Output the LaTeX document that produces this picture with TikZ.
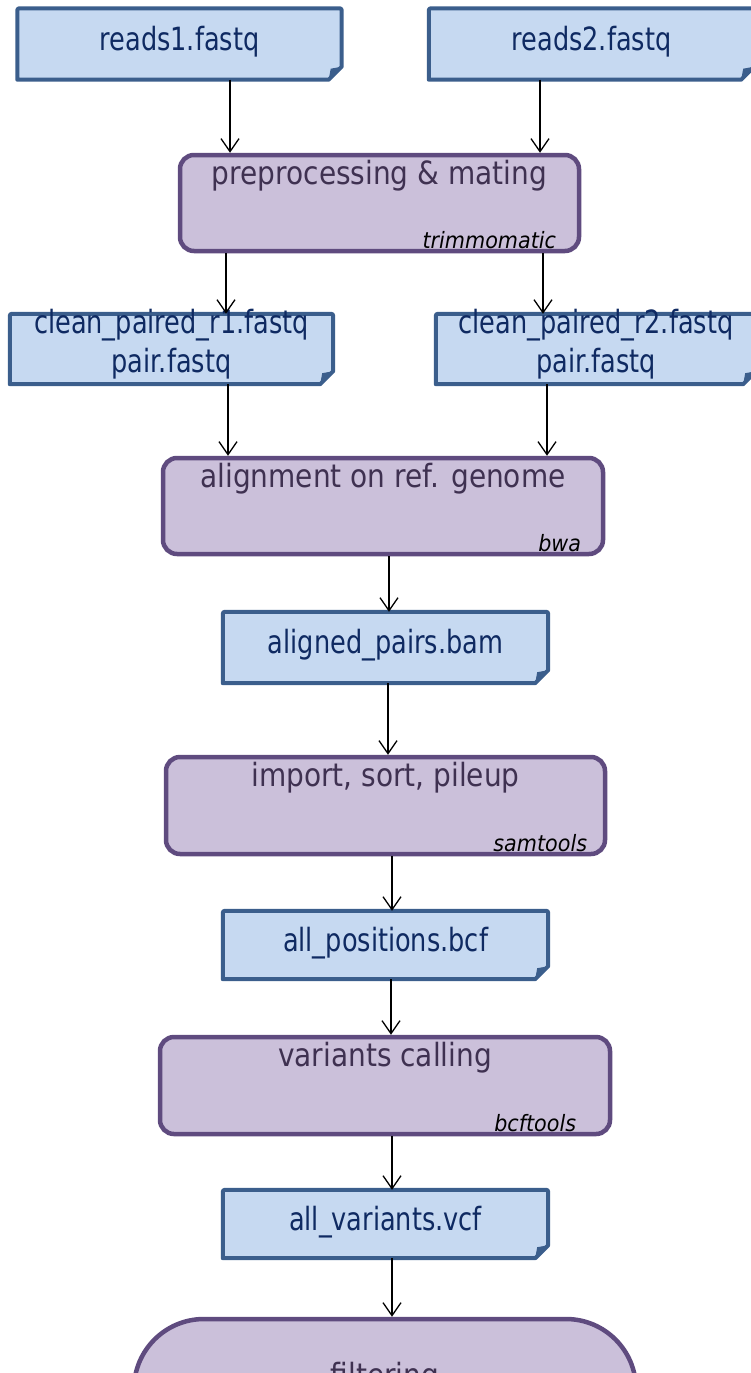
\documentclass[tikz,border=0pt]{standalone}
\usepackage{fontspec}
\setmainfont{DejaVu Sans}
\newfontfamily\filefont[FakeStretch=0.80]{DejaVu Sans}
\newfontfamily\titlefont[FakeStretch=0.875]{DejaVu Sans}
\newfontfamily\labelfont[FakeStretch=0.92]{DejaVu Sans}
\usetikzlibrary{arrows.meta,calc,backgrounds}
\definecolor{filefill}{HTML}{C6D9F1}
\definecolor{fileline}{HTML}{3B5E8C}
\definecolor{filetext}{HTML}{0F2A62}
\definecolor{procfill}{HTML}{CBC0DA}
\definecolor{procline}{HTML}{5F4B7F}
\definecolor{proctext}{HTML}{3F3151}
\tikzset{
  filebox/.style={rectangle, inner sep=0pt, draw=none, text=filetext, font=\filefont\fontsize{32}{39}\selectfont, text height=20pt, text depth=8pt},
  twoline/.style={align=center, text height=58pt, text depth=12pt},
  procbox/.style={rectangle, rounded corners=14pt, fill=procfill, draw=procline, line width=4.5pt, inner sep=0pt},
  proctitle/.style={anchor=base, text=proctext, font=\titlefont\fontsize{32}{38}\selectfont, inner sep=0pt},
  toollabel/.style={anchor=base east, text=black, font=\labelfont\fontsize{22.5}{26}\selectfont\itshape, inner sep=0pt},
  arr/.style={-{Straight Barb[length=13pt,width=18pt]}, line width=1.3pt, black},
  filebody/.style={fill=filefill, draw=fileline, line width=4pt, line join=round},
  fold/.style={fill=fileline}
}
\begin{document}
\begin{tikzpicture}[x=1pt,y=-1pt]
\useasboundingbox (0,0) rectangle (751,1373);
% file nodes
\node[filebox, minimum width=324, minimum height=71] (r1) at (179.5,44) {reads1.fastq};
\node[filebox, minimum width=325, minimum height=71] (r2) at (591.5,44) {reads2.fastq};
\node[filebox, twoline, minimum width=323, minimum height=70] (c1) at (171.5,349) {clean\_paired\_r1.fastq\\pair.fastq};
\node[filebox, twoline, minimum width=320, minimum height=70] (c2) at (596,349) {clean\_paired\_r2.fastq\\pair.fastq};
\node[filebox, minimum width=325, minimum height=71] (ap) at (385.5,647.5) {aligned\_pairs.bam};
\node[filebox, minimum width=325, minimum height=68] (pos) at (385.5,945) {all\_positions.bcf};
\node[filebox, minimum width=325, minimum height=68] (var) at (385.5,1224) {all\_variants.vcf};
% process nodes
\node[procbox, minimum width=399, minimum height=96] (pp) at (379.5,203) {};
\node[proctitle] (ppt) at ($(pp.north)+(0,31.5)$) {preprocessing \& mating};
\node[toollabel] (ppl) at ($(pp.south east)+(-25,-4.5)$) {trimmomatic};
\node[procbox, minimum width=440, minimum height=96] (al) at (383,506) {};
\node[proctitle] (alt) at ($(al.north)+(0,31.5)$) {alignment on ref. genome};
\node[toollabel] (all) at ($(al.south east)+(-24,-4.5)$) {bwa};
\node[procbox, minimum width=439, minimum height=97] (is) at (385.5,805.5) {};
\node[proctitle] (ist) at ($(is.north)+(0,31.5)$) {import, sort, pileup};
\node[toollabel] (isl) at ($(is.south east)+(-20,-4.5)$) {samtools};
\node[procbox, minimum width=450, minimum height=97] (vc) at (385,1085.5) {};
\node[proctitle] (vct) at ($(vc.north)+(0,31.5)$) {variants calling};
\node[toollabel] (vcl) at ($(vc.south east)+(-36,-4.5)$) {bcftools};
\node[procbox, rounded corners=70pt, minimum width=502, minimum height=200] (flt) at (385,1419) {};
\node[proctitle] (fltt) at ($(flt.north)+(0,70)$) {filtering};
% file shapes
\begin{scope}[on background layer]
\foreach \n in {r1,r2,c1,c2,ap,pos,var}{
  \draw[filebody] ($(\n.south west)$) [rounded corners=2pt] -- (\n.north west) -- (\n.north east) [sharp corners] -- ($(\n.south east)+(0,-13)$) -- ($(\n.south east)+(-13,0)$) -- cycle;
  \fill[fold] ($(\n.south east)+(0,-13)$) -- ($(\n.south east)+(-11,-11)$) -- ($(\n.south east)+(-13,0)$) -- cycle;
}
\end{scope}
% connectors
\draw[arr] ([xshift=50.5pt]r1.south) -- ([xshift=-149.5pt]pp.north);
\draw[arr] ([xshift=-51.5pt]r2.south) -- ([xshift=160.5pt]pp.north);
\draw[arr] ([xshift=-153.5pt]pp.south) -- ([xshift=54.5pt]c1.north);
\draw[arr] ([xshift=163.5pt]pp.south) -- ([xshift=-53pt]c2.north);
\draw[arr] ([xshift=56.5pt]c1.south) -- ([xshift=-155pt]al.north);
\draw[arr] ([xshift=-49pt]c2.south) -- ([xshift=164pt]al.north);
\draw[arr] ([xshift=6pt]al.south) -- ([xshift=3.5pt]ap.north);
\draw[arr] ([xshift=2.5pt]ap.south) -- ([xshift=2.5pt]is.north);
\draw[arr] ([xshift=6.5pt]is.south) -- ([xshift=6.5pt]pos.north);
\draw[arr] ([xshift=5.5pt]pos.south) -- ([xshift=6pt]vc.north);
\draw[arr] ([xshift=7pt]vc.south) -- ([xshift=6.5pt]var.north);
\draw[arr] ([xshift=6.5pt]var.south) -- ([xshift=7pt]flt.north);
\end{tikzpicture}
\end{document}
